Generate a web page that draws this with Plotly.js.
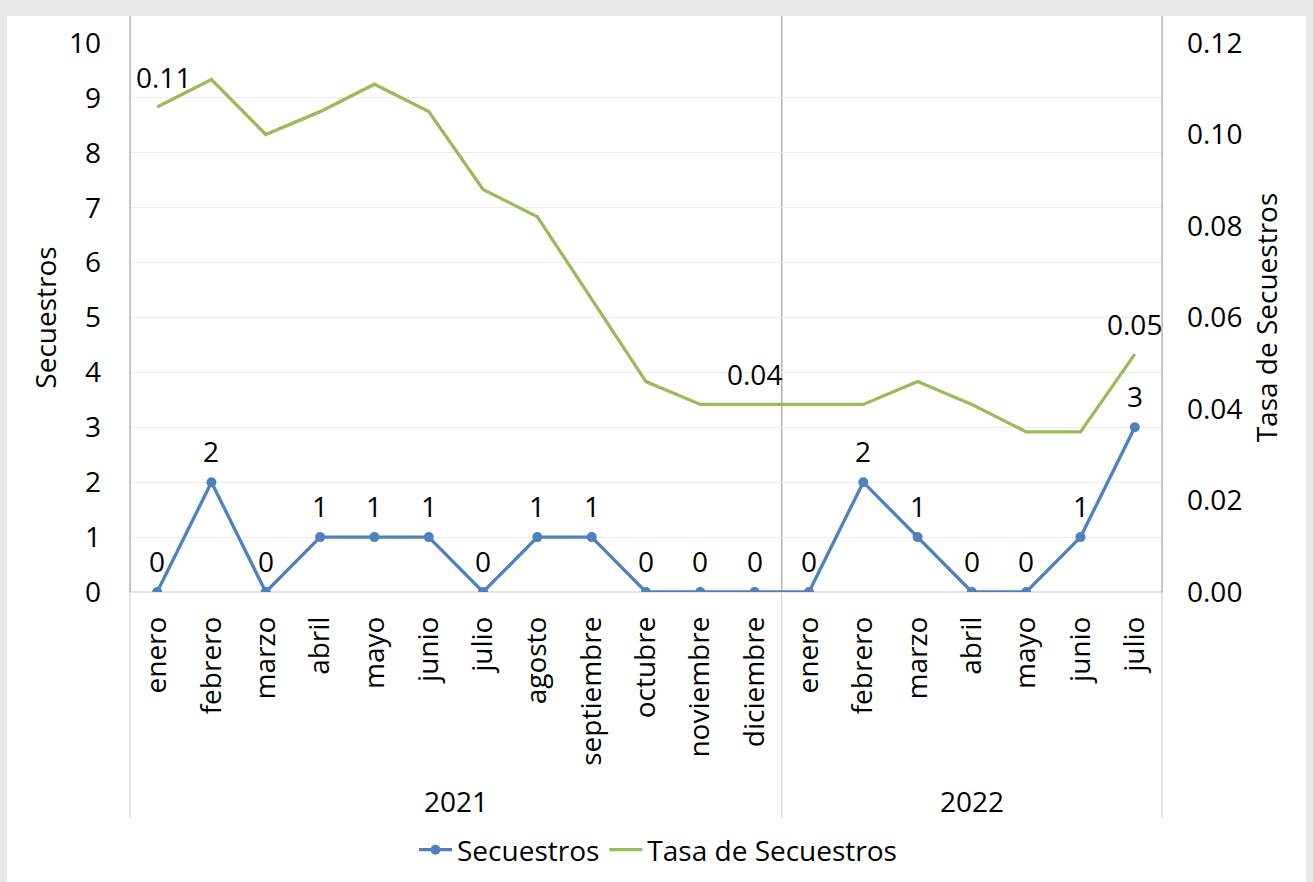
<!DOCTYPE html>
<html><head><meta charset="utf-8">
<script src="https://cdn.plot.ly/plotly-3.0.1.min.js"></script>
<style>html,body{margin:0;padding:0;background:#e9e9e9}#chart{width:1313px;height:882px}</style>
</head><body><div id="chart"></div>
<script>
const months = ['enero','febrero','marzo','abril','mayo','junio','julio','agosto','septiembre','octubre','noviembre','diciembre',
                'enero','febrero','marzo','abril','mayo','junio','julio'];
const years = ['2021','2021','2021','2021','2021','2021','2021','2021','2021','2021','2021','2021',
               '2022','2022','2022','2022','2022','2022','2022'];
const secuestros = [0,2,0,1,1,1,0,1,1,0,0,0,0,2,1,0,0,1,3];
const tasa = [0.106,0.112,0.100,0.105,0.111,0.105,0.088,0.082,0.064,0.046,0.041,0.041,0.041,0.041,0.046,0.041,0.035,0.035,0.052];
const tasaLabelIdx = [0,11,18];
const leftTicks = [0,1,2,3,4,5,6,7,8,9,10];
const rightTicks = [0,0.02,0.04,0.06,0.08,0.10,0.12];

const FONT = 'Open Sans, Noto Sans, sans-serif';
const FS = 28;
const idx = months.map((m,i)=>i);
const BLUE = '#4f81bd', GREEN = '#9bbb59';

const L=130, R=1162, T=43, B=592;
const px = x => (x-L)/(R-L);
const py = y => (B-y)/(B-T);

const traces = [
  {x: idx, y: secuestros, name: 'Secuestros', type: 'scatter', mode: 'lines+markers',
   line: {color: BLUE, width: 3.3}, marker: {color: BLUE, size: 10}, yaxis: 'y'},
  {x: idx, y: tasa, name: 'Tasa de Secuestros', type: 'scatter', mode: 'lines',
   line: {color: GREEN, width: 3.3}, yaxis: 'y2'}
];

const annotations = [];
secuestros.forEach((v,i)=>annotations.push({x:i, y:v, xref:'x', yref:'y', text:String(v), showarrow:false,
  xanchor:'center', yanchor:'middle', yshift:31, font:{family:FONT,size:FS,color:'#000'}}));
tasaLabelIdx.forEach(i=>annotations.push({x:i, y:tasa[i], xref:'x', yref:'y2', text:tasa[i].toFixed(2), showarrow:false,
  xanchor:'center', yanchor:'middle', yshift:30, xshift: i===0?6:0, font:{family:FONT,size:FS,color:'#000'}}));
[...new Set(years)].forEach(yr=>{
  const ii = idx.filter(i=>years[i]===yr);
  const c = ii.reduce((a,b)=>a+b,0)/ii.length;
  annotations.push({x:c, y:py(801), xref:'x', yref:'paper', text:yr, showarrow:false,
    xanchor:'center', yanchor:'middle', font:{family:FONT,size:FS,color:'#000'}});
});

const dividers = [];
for(let i=1;i<years.length;i++){ if(years[i]!==years[i-1]) dividers.push(i-0.5); }

const shapes = [
  {type:'rect', xref:'paper', yref:'paper', x0:px(7), x1:px(1306), y0:py(900), y1:py(16),
   fillcolor:'#ffffff', line:{width:0}, layer:'below'},
  {type:'line', xref:'paper', yref:'paper', x0:0, x1:0, y0:py(592), y1:py(16), line:{color:'#a6a6a6', width:1.3}},
  {type:'line', xref:'paper', yref:'paper', x0:0, x1:0, y0:py(818), y1:py(592), line:{color:'#d9d9d9', width:1.3}},
  {type:'line', xref:'paper', yref:'paper', x0:1, x1:1, y0:py(592), y1:py(16), line:{color:'#a6a6a6', width:1.3}},
  {type:'line', xref:'paper', yref:'paper', x0:1, x1:1, y0:py(818), y1:py(592), line:{color:'#d9d9d9', width:1.3}},
  {type:'line', xref:'paper', yref:'paper', x0:0, x1:1, y0:0, y1:0, line:{color:'#d9d9d9', width:1.5}, layer:'below'}
];
dividers.forEach(d=>{
  shapes.push({type:'line', xref:'x', yref:'paper', x0:d, x1:d, y0:0, y1:py(16), line:{color:'#a6a6a6', width:1.3}, layer:'below'});
  shapes.push({type:'line', xref:'x', yref:'paper', x0:d, x1:d, y0:py(818), y1:0, line:{color:'#d9d9d9', width:1.3}});
});

const layout = {
  width:1313, height:882,
  margin:{l:L, r:1313-R, t:T, b:882-B, pad:0, autoexpand:false},
  paper_bgcolor:'#e9e9e9', plot_bgcolor:'rgba(0,0,0,0)',
  font:{family:FONT, size:FS, color:'#000'},
  showlegend:true,
  legend:{orientation:'h', x:px(658), xanchor:'center', y:py(850), yanchor:'middle',
    font:{family:FONT,size:FS,color:'#000'}, bgcolor:'rgba(0,0,0,0)', itemwidth:33, tracegroupgap:0},
  xaxis:{range:[-0.5, months.length-0.5], tickmode:'array', tickvals:idx, ticktext:months, tickangle:-90,
    showgrid:false, zeroline:false, showline:false, ticks:'', ticklabelstandoff:18,
    tickfont:{family:FONT,size:FS,color:'#000'}, fixedrange:true, automargin:false},
  yaxis:{range:[0,10], tickmode:'array', tickvals:leftTicks, showgrid:true, gridcolor:'#ececec', gridwidth:1,
    zeroline:false, showline:false, ticks:'', ticklabelstandoff:28, automargin:false,
    tickfont:{family:FONT,size:FS,color:'#000'},
    title:{text:'Secuestros', font:{family:FONT,size:FS,color:'#000'}, standoff:4}},
  yaxis2:{range:[0,0.12], overlaying:'y', side:'right', tickmode:'array', tickvals:rightTicks, tickformat:'.2f',
    showgrid:false, zeroline:false, showline:false, ticks:'', ticklabelstandoff:24, automargin:false,
    tickfont:{family:FONT,size:FS,color:'#000'},
    title:{text:'Tasa de Secuestros', font:{family:FONT,size:FS,color:'#000'}, standoff:16}},
  annotations, shapes
};
Plotly.newPlot('chart', traces, layout, {displayModeBar:false, staticPlot:true});
</script>
</body></html>
